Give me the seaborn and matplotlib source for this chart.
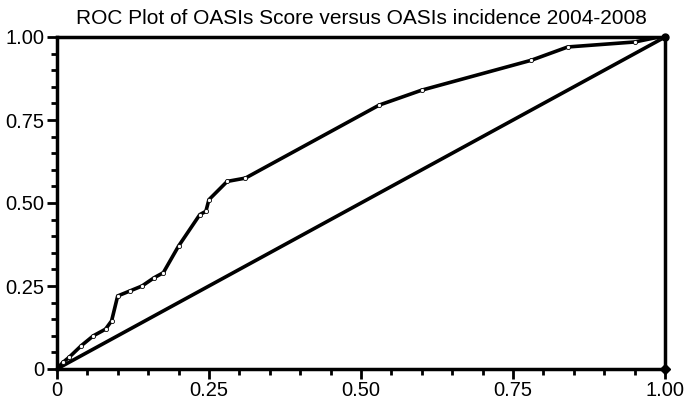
import matplotlib
matplotlib.use("Agg")
import matplotlib.pyplot as plt
import seaborn as sns
import pandas as pd
from matplotlib.ticker import MultipleLocator

fpr = [0.0, 0.01, 0.02, 0.04, 0.06, 0.08, 0.09, 0.10, 0.12, 0.14, 0.16, 0.175,
       0.20, 0.235, 0.245, 0.25, 0.28, 0.31, 0.53, 0.60, 0.78, 0.84, 0.95, 0.99, 1.0]
tpr = [0.0, 0.02, 0.035, 0.07, 0.10, 0.12, 0.145, 0.22, 0.235, 0.25, 0.275, 0.29,
       0.37, 0.465, 0.475, 0.51, 0.565, 0.575, 0.795, 0.84, 0.93, 0.97, 0.985, 1.0, 1.0]
ref_x = [0.0, 1.0]
ref_y = [0.0, 1.0]
tick_vals = [0, 0.25, 0.5, 0.75, 1.0]
tick_labels = ["0", "0.25", "0.50", "0.75", "1.00"]
title = "ROC Plot of OASIs Score versus OASIs incidence 2004-2008"

sns.set_style("white")
plt.rcParams['font.family'] = ['Liberation Sans', 'DejaVu Sans']

fig = plt.figure(figsize=(6.85, 4.0), dpi=100)
ax = fig.add_axes([0.083, 0.0775, 0.888, 0.83])

roc = pd.DataFrame({"fpr": fpr, "tpr": tpr})
ref = pd.DataFrame({"x": ref_x, "y": ref_y})
sns.lineplot(data=ref, x="x", y="y", ax=ax, color="black", lw=2.6, sort=False)
sns.lineplot(data=roc, x="fpr", y="tpr", ax=ax, color="black", lw=2.6, sort=False,
             marker="o", markersize=3, markerfacecolor="white", markeredgecolor="black",
             markeredgewidth=0.6)
ax.plot([1.0], [0.0], marker="D", color="black", markersize=5, clip_on=False)
ax.plot([1.0], [1.0], marker="o", color="black", markersize=5, clip_on=False)

ax.set_xlim(0, 1)
ax.set_ylim(0, 1)
ax.set_xticks(tick_vals)
ax.set_xticklabels(tick_labels)
ax.set_yticks(tick_vals)
ax.set_yticklabels(tick_labels)
ax.xaxis.set_minor_locator(MultipleLocator(0.05))
ax.yaxis.set_minor_locator(MultipleLocator(0.05))
ax.tick_params(axis="both", which="major", direction="out", length=7, width=2,
               labelsize=14.5, color="black", labelcolor="black", pad=2)
ax.tick_params(axis="both", which="minor", direction="out", length=4, width=2, color="black")
ax.tick_params(bottom=True, left=True, top=False, right=False)
ax.tick_params(which="minor", bottom=True, left=True, top=False, right=False)
for s in ax.spines.values():
    s.set_visible(True)
    s.set_color("black")
    s.set_linewidth(2.5)
ax.set_xlabel("")
ax.set_ylabel("")
ax.set_title(title, fontsize=15, pad=9, color="black")

fig.savefig("out.png", dpi=100)
